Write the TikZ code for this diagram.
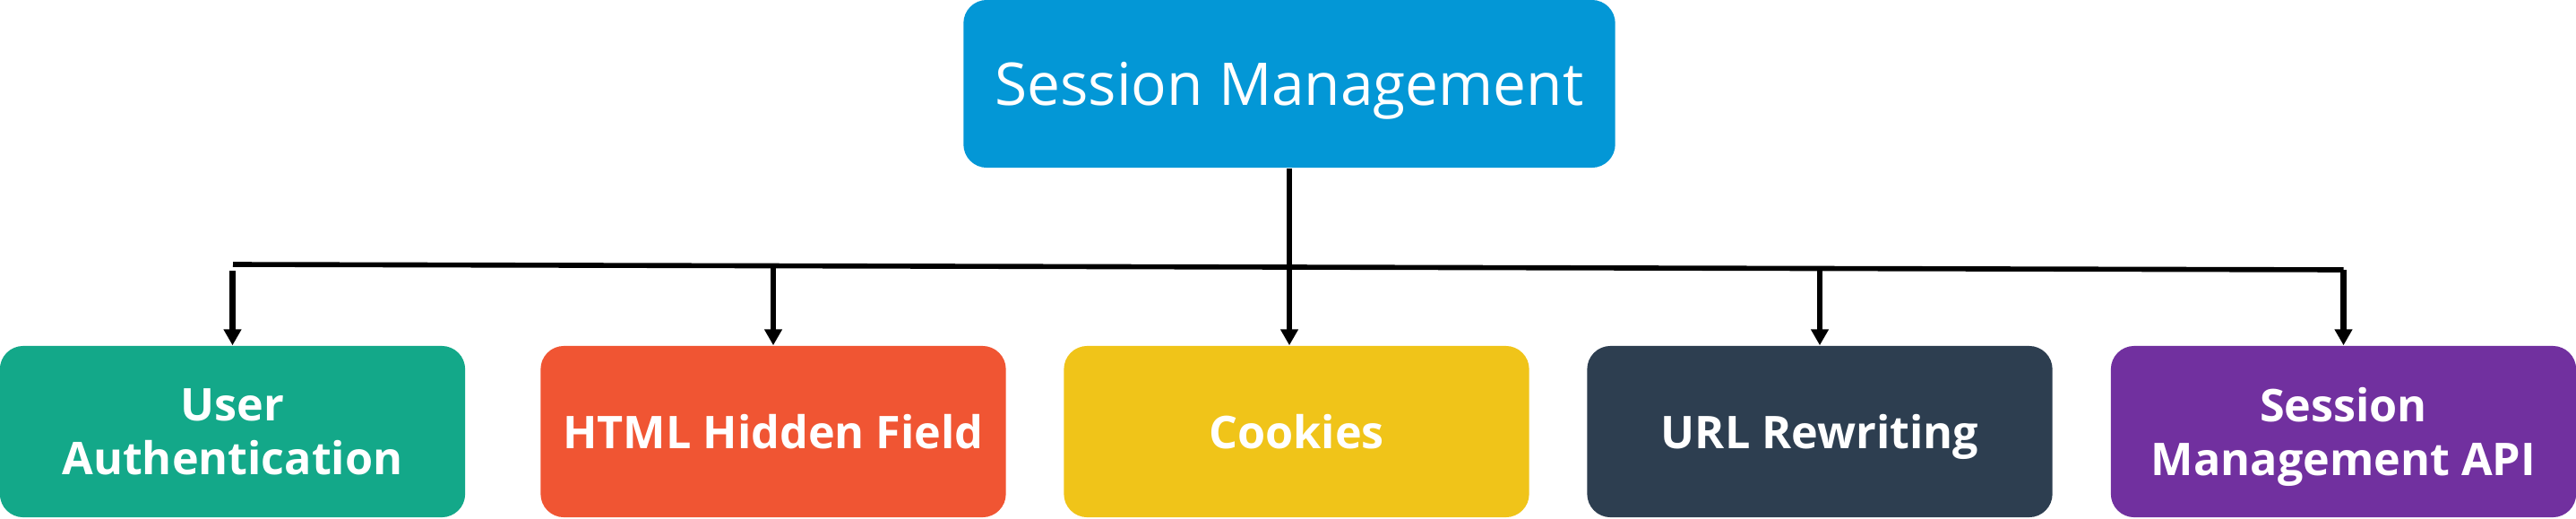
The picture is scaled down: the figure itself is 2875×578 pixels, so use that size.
\documentclass[tikz,border=0pt]{standalone}
\usepackage{fontspec}
\setmainfont{Open Sans}
\usetikzlibrary{positioning,arrows.meta}

\definecolor{topblue}{HTML}{0397D6}
\definecolor{usergreen}{HTML}{13A889}
\definecolor{htmlred}{HTML}{F05533}
\definecolor{cookieyellow}{HTML}{F0C419}
\definecolor{urlnavy}{HTML}{2D3E50}
\definecolor{apipurple}{HTML}{71309F}

\begin{document}
\begin{tikzpicture}[x=0.01cm, y=-0.01cm,
  box/.style={rectangle, rounded corners=0.26cm, inner sep=0pt, text=white, align=center, text depth=0pt},
  topbox/.style={box, fill=topblue, minimum width=7.27cm, minimum height=1.87cm, font=\fontsize{18.7}{22}\selectfont},
  kind/.style={box, minimum width=5.19cm, minimum height=1.91cm, font=\fontsize{14.3}{17.2}\selectfont\bfseries},
  bus/.style={line width=1.6pt},
  arrow/.style={line width=1.75pt, -{Triangle[length=5.1pt, width=5.4pt]}}]

\useasboundingbox (0,0) rectangle (2875,578);

% The session management tree: one root, five ways below it.

\node[topbox] (sm) at (1439,93.5) {Session Management};

\node[kind, fill=usergreen] (user) at (259.5,481.5) {User\\Authentication};
\node[kind, fill=htmlred] (html) at (863,481.5) {HTML Hidden Field};
\node[kind, fill=cookieyellow] (cookies) at (1447,481.5) {Cookies};
\node[kind, fill=urlnavy] (url) at (2031,481.5) {URL Rewriting};
\node[kind, fill=apipurple] (api) at (2615.5,481.5) {Session\\Management API};

\coordinate (busl) at (260,295);
\coordinate (busr) at (2615.5,301);

\draw[bus] (busl) -- (busr);

\draw[arrow] (sm.south) -- (sm.south |- cookies.north);

\draw[arrow] (user.north |- busl) ++(0,7) -- (user.north);
\draw[arrow] (html.north |- busl) -- (html.north);
\draw[arrow] (url.north |- busr) ++(0,-3) -- (url.north);
\draw[arrow] (api.north |- busr) -- (api.north);

\end{tikzpicture}
\end{document}
